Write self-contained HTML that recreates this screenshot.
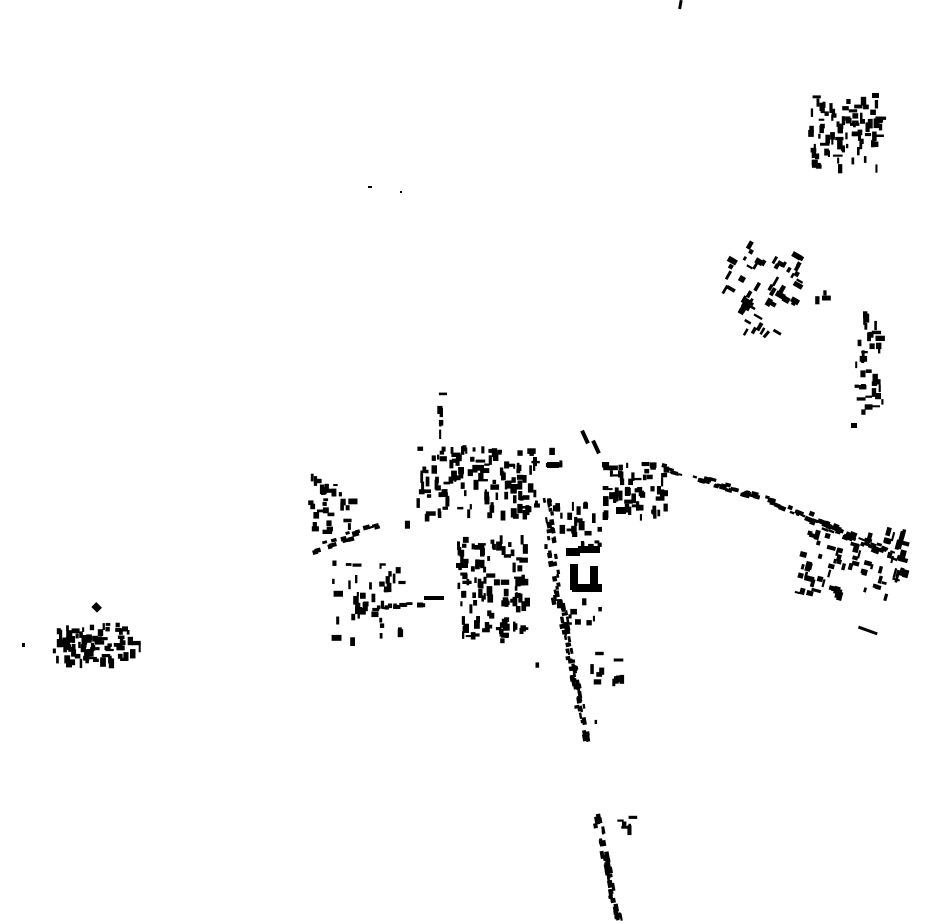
<!DOCTYPE html>
<html><head><meta charset="utf-8"><style>
html,body{margin:0;padding:0;background:#fff;width:930px;height:924px;overflow:hidden}
svg{display:block}
</style></head><body>
<svg id="s" width="930" height="924" viewBox="0 0 930 924" xmlns="http://www.w3.org/2000/svg">
<g fill="#000">
<rect x="679" y="0" width="3" height="9" transform="rotate(10 680 4)"/>
<rect x="368" y="186" width="4" height="2"/>
<rect x="400" y="191" width="2" height="2"/>
<rect x="872" y="93" width="7" height="5"/>
<rect x="93" y="604" width="8" height="7" transform="rotate(45 97 607)"/>
<rect x="858" y="629" width="20" height="3" transform="rotate(20 868 630)"/>
<rect x="566" y="548" width="14" height="8"/>
<rect x="570" y="564" width="8" height="26"/>
<rect x="590" y="566" width="8" height="20"/>
<rect x="572" y="584" width="30" height="8"/>
<rect x="578" y="546" width="22" height="7"/>
<rect x="851" y="423" width="6" height="5"/>
<rect x="22" y="643" width="3" height="4"/>
<rect x="583" y="430" width="4" height="14" transform="rotate(-25 585 437)"/>
<rect x="594" y="440" width="4" height="14" transform="rotate(-25 596 447)"/>
<rect x="616" y="507" width="10" height="7"/>
<rect x="355" y="607" width="7" height="7"/>
<rect x="547" y="462" width="12" height="6"/>
<rect x="424" y="596" width="20" height="4"/>
<rect x="456" y="563" width="12" height="5"/>
<rect x="765" y="330" width="3" height="8" transform="rotate(40 766 334)"/>
</g>
<g id="g" fill="#000"></g>
</svg>
<script>
var seed=12345;function r(){seed=(seed*16807)%2147483647;return (seed-1)/2147483646;}
var out='';
function box(x0,y0,x1,y1,n,rot){for(var i=0;i<n;i++){var x=x0+r()*(x1-x0),y=y0+r()*(y1-y0);var w=2+r()*4,h=4+r()*6;if(r()<0.3){var t=w;w=h;h=t;}out+='<rect x="'+x.toFixed(1)+'" y="'+y.toFixed(1)+'" width="'+w.toFixed(1)+'" height="'+h.toFixed(1)+'"'+(rot?' transform="rotate('+rot+' '+x.toFixed(1)+' '+y.toFixed(1)+')"':'')+'/>';}}
function line(x0,y0,x1,y1,n,wd,rot){for(var i=0;i<n;i++){var t=r();var x=x0+(x1-x0)*t+(r()-.5)*wd,y=y0+(y1-y0)*t+(r()-.5)*wd;var w=3+r()*5,h=2+r()*3;out+='<rect x="'+x.toFixed(1)+'" y="'+y.toFixed(1)+'" width="'+w.toFixed(1)+'" height="'+h.toFixed(1)+'" transform="rotate('+rot+' '+x.toFixed(1)+' '+y.toFixed(1)+')"/>';}}
box(808,95,880,165,85);
box(722,240,800,300,40,30);box(740,290,780,330,14,30);box(815,290,830,298,3);
box(850,310,882,410,35);
box(415,445,535,515,120);box(434,392,440,460,9);box(540,445,560,470,4);
box(308,470,350,530,30);line(312,548,372,525,18,6,-15);box(402,515,408,522,1);
box(330,560,400,640,40);line(370,607,425,602,12,4,0);box(455,535,525,640,110);
line(548,495,560,600,30,8,80);line(562,600,588,735,60,6,80);box(540,500,600,545,25);box(555,590,600,630,10);
box(583,650,625,680,10);box(533,660,542,664,1);box(594,719,600,723,1);
box(600,462,665,515,60);line(660,465,775,500,40,6,15);line(775,500,905,560,50,8,22);
box(795,525,905,595,80,15);
box(52,622,132,660,80);box(138,638,145,645,1);
line(598,812,620,918,45,6,80);box(615,815,630,830,6);
document.getElementById('g').innerHTML=out;
</script>
</body></html>
